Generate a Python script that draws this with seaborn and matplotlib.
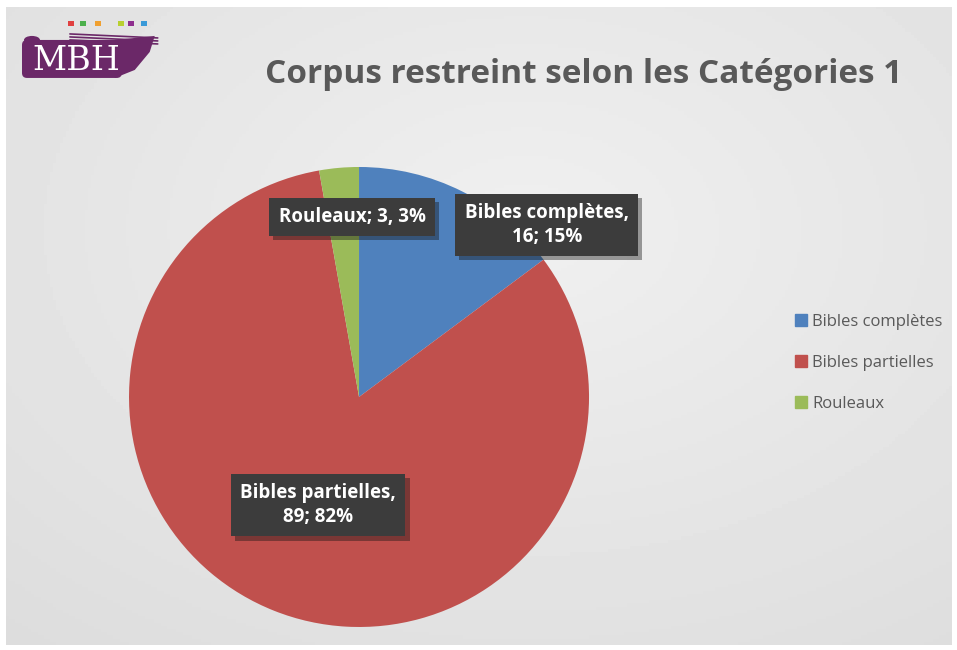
import numpy as np
import matplotlib
matplotlib.use("Agg")
import matplotlib.pyplot as plt
import matplotlib.patches as mpatches
import matplotlib.patheffects as pe
import seaborn as sns

# Data
categories = ["Bibles complètes", "Bibles partielles", "Rouleaux"]
counts = [16, 89, 3]
percents = [15, 82, 3]
label_texts = ["Bibles complètes,\n16; 15%", "Bibles partielles,\n89; 82%", "Rouleaux; 3, 3%"]
colors = ["#4F81BD", "#C0504D", "#9BBB59"]
title = "Corpus restreint selon les Catégories 1"

sns.set_theme(style="white")
plt.rcParams["font.family"] = ["Open Sans", "DejaVu Sans"]

fig = plt.figure(figsize=(9.57, 6.5), dpi=100)
fig.patch.set_facecolor("white")

# background gradient panel
bg = fig.add_axes([0.006, 0.008, 0.988, 0.982])
yy, xx = np.mgrid[0:1:200j, 0:1:300j]
grad = 0.94 - 0.08 * np.sqrt(((xx - 0.55) / 0.9) ** 2 + ((yy - 0.35) / 0.9) ** 2)
bg.imshow(grad, cmap="gray", vmin=0, vmax=1, aspect="auto", extent=[0, 1, 0, 1])
bg.set_axis_off()

# pie
ax = fig.add_axes([0.1348, 0.0354, 0.4807, 0.7077])
ax.pie(counts, colors=colors, startangle=90, counterclock=False, radius=1,
       wedgeprops=dict(linewidth=0))
ax.set_xlim(-1, 1)
ax.set_ylim(-1, 1)
ax.set_aspect("equal")
ax.set_axis_off()

label_pos = [(0.816, 0.748), (-0.178, -0.470), (-0.030, 0.783)]
for txt, (lx, ly) in zip(label_texts, label_pos):
    ax.text(lx, ly, txt, ha="center", va="center", color="white",
            fontsize=13.5, fontweight="bold", linespacing=1.25,
            bbox=dict(boxstyle="square,pad=0.5", facecolor="#3c3c3c",
                      edgecolor="none",
                      path_effects=[pe.SimplePatchShadow(offset=(3, -3), alpha=0.4), pe.Normal()]),
            zorder=5)

# title
fig.text(0.61, 0.885, title, ha="center", va="center", fontsize=24,
         fontweight="bold", color="#595959")

# legend
handles = [mpatches.Patch(color=c, label=l) for c, l in zip(colors, categories)]
leg = fig.legend(handles=handles, loc="center left", bbox_to_anchor=(0.815, 0.442),
                 frameon=False, fontsize=12, handlelength=0.75, handleheight=0.75,
                 handletextpad=0.3, labelspacing=1.5)
for t in leg.get_texts():
    t.set_color("#595959")

# logo (1 data unit = 1 pixel)
lg = fig.add_axes([0.0209, 0.877, 0.146, 0.0954])
lg.set_xlim(0, 140)
lg.set_ylim(0, 62)
lg.set_axis_off()
purple = "#6B2868"
lg.add_patch(mpatches.FancyBboxPatch((2, 2), 100, 38, boxstyle="round,pad=0,rounding_size=5",
                                     facecolor=purple, edgecolor="none"))
lg.add_patch(mpatches.Polygon([[95, 40], [135, 44], [130, 28], [115, 10], [95, 2]],
                              closed=True, facecolor=purple, edgecolor="none"))
lg.add_patch(mpatches.Ellipse((12, 40), 16, 8, facecolor=purple, edgecolor="none"))
for yl in [38, 41, 44]:
    lg.plot([50, 138], [yl + 2, yl - 2], color=purple, lw=1.2)
lg.text(56, 19, "MBH", ha="center", va="center", color="white", fontsize=24,
        family="DejaVu Serif")
sq_colors = ["#E04040", "#4CB04C", "#F0A030", "#B8D030", "#8E2E8E", "#3A9AD8"]
sq_x = [48, 60, 75, 98, 108, 121]
for c, x in zip(sq_colors, sq_x):
    lg.add_patch(mpatches.Rectangle((x, 54), 6, 5, facecolor=c, edgecolor="none"))

fig.savefig("out.png", dpi=100, facecolor=fig.get_facecolor())
